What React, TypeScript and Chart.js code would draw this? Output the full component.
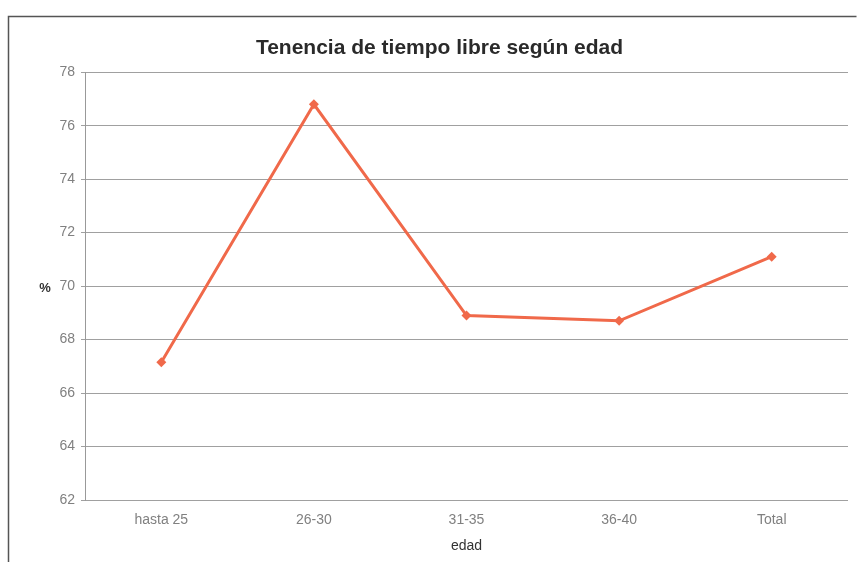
import React, { useEffect, useRef } from "react";
import { Chart, registerables } from "chart.js";

Chart.register(...registerables);

const categories = ["hasta 25", "26-30", "31-35", "36-40", "Total"];
const values = [67.15, 76.8, 68.9, 68.7, 71.1];
const yMin = 62;
const yMax = 78;
const yStep = 2;
const titleText = "Tenencia de tiempo libre según edad";
const xTitle = "edad";
const yTitle = "%";

const FONT = "'Liberation Sans', Arial, sans-serif";

const framePlugin = {
  id: "frame",
  beforeDraw(chart: any) {
    const ctx = chart.ctx;
    ctx.save();
    ctx.fillStyle = "#ffffff";
    ctx.fillRect(0, 0, chart.width, chart.height);
    ctx.strokeStyle = "#555555";
    ctx.lineWidth = 1.5;
    ctx.beginPath();
    ctx.moveTo(8.5, chart.height);
    ctx.lineTo(8.5, 16.5);
    ctx.lineTo(856.5, 16.5);
    ctx.stroke();
    ctx.restore();
  },
  afterDraw(chart: any) {
    const ctx = chart.ctx;
    const y = chart.scales.y.getPixelForValue(70);
    ctx.save();
    ctx.font = `bold 13px ${FONT}`;
    ctx.fillStyle = "#333333";
    ctx.textAlign = "center";
    ctx.textBaseline = "middle";
    ctx.fillText(yTitle, 45, y + 2);
    ctx.restore();
  },
};

export default function App() {
  const ref = useRef<HTMLCanvasElement | null>(null);
  useEffect(() => {
    if (!ref.current) return;
    const chart = new Chart(ref.current, {
      type: "line",
      data: {
        labels: categories,
        datasets: [
          {
            data: values,
            borderColor: "#f0694a",
            backgroundColor: "#f0694a",
            borderWidth: 3,
            pointRadius: 5,
            pointStyle: "rectRot",
            pointBorderWidth: 0,
            tension: 0,
          },
        ],
      },
      options: {
        animation: false,
        responsive: false,
        layout: { padding: { left: 20, right: 0, top: 16, bottom: 0 } },
        plugins: {
          legend: { display: false },
          tooltip: { enabled: false },
          title: {
            display: true,
            text: titleText,
            color: "#2a2a2a",
            font: { family: FONT, size: 21, weight: "bold" },
            padding: { top: 20, bottom: 11 },
          },
        },
        scales: {
          x: {
            offset: true,
            grid: { display: false, drawTicks: false },
            border: { display: false },
            ticks: {
              color: "#808080",
              font: { family: FONT, size: 14 },
              padding: 12,
              maxRotation: 0,
            },
            title: {
              display: true,
              text: xTitle,
              color: "#333333",
              font: { family: FONT, size: 14 },
              padding: { top: 2, bottom: 7 },
            },
            afterFit(scale: any) {
              scale.height = 62;
            },
          },
          y: {
            min: yMin,
            max: yMax,
            grid: {
              color: "#a0a0a0",
              lineWidth: 1,
              tickLength: 4,
            },
            border: { display: true, color: "#999999", width: 1 },
            ticks: {
              stepSize: yStep,
              color: "#808080",
              font: { family: FONT, size: 14 },
              padding: 6,
            },
            afterFit(scale: any) {
              scale.width = 65;
            },
          },
          yRight: {
            position: "right",
            display: true,
            min: yMin,
            max: yMax,
            grid: { display: false, drawTicks: false },
            border: { display: false },
            ticks: { display: false },
            afterFit(scale: any) {
              scale.width = 11;
            },
          },
        },
      },
      plugins: [framePlugin],
    });
    return () => chart.destroy();
  }, []);
  return (
    <div style={{ position: "absolute", left: 0, top: 0, width: 859, height: 562 }}>
      <canvas ref={ref} width={859} height={562} style={{ display: "block" }} />
    </div>
  );
}
